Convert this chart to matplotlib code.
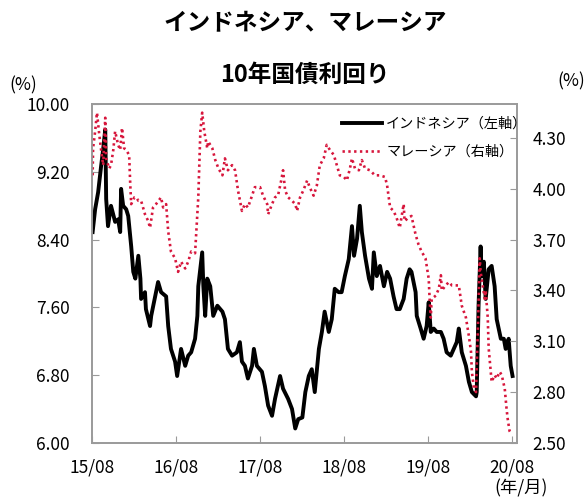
import pandas as pd
import matplotlib.pyplot as plt
import matplotlib.dates as mdates
from matplotlib.lines import Line2D

plt.rcParams['font.family'] = ['Noto Sans CJK JP', 'DejaVu Sans']

# インドネシア 10年国債利回り（左軸, %）
idn_dates = [
    '2015-08-03', '2015-08-14', '2015-08-27', '2015-09-09', '2015-09-18', '2015-09-27',
    '2015-10-01', '2015-10-09', '2015-10-22', '2015-11-09', '2015-11-22', '2015-12-01',
    '2015-12-05', '2015-12-14', '2015-12-27', '2016-01-05', '2016-01-18', '2016-01-27',
    '2016-02-05', '2016-02-18', '2016-02-27', '2016-03-01', '2016-03-18', '2016-03-22',
    '2016-04-09', '2016-04-14', '2016-05-01', '2016-05-14', '2016-05-27', '2016-06-18',
    '2016-06-27', '2016-07-09', '2016-07-27', '2016-08-05', '2016-08-22', '2016-09-09',
    '2016-09-22', '2016-10-05', '2016-10-22', '2016-11-01', '2016-11-05', '2016-11-22',
    '2016-11-27', '2016-12-05', '2016-12-14', '2016-12-27', '2017-01-09', '2017-01-27',
    '2017-02-18', '2017-03-01', '2017-03-14', '2017-04-01', '2017-04-22', '2017-05-05',
    '2017-05-14', '2017-05-27', '2017-06-09', '2017-06-27', '2017-07-05', '2017-07-18',
    '2017-08-09', '2017-08-22', '2017-09-05', '2017-09-22', '2017-10-05', '2017-10-27',
    '2017-11-09', '2017-12-01', '2017-12-18', '2018-01-01', '2018-01-14', '2018-02-01',
    '2018-02-14', '2018-03-01', '2018-03-14', '2018-03-27', '2018-04-14', '2018-04-27',
    '2018-05-09', '2018-05-27', '2018-06-09', '2018-06-22', '2018-07-09', '2018-07-22',
    '2018-08-05', '2018-08-22', '2018-09-05', '2018-09-14', '2018-09-27', '2018-10-09',
    '2018-10-18', '2018-11-01', '2018-11-18', '2018-12-01', '2018-12-09', '2018-12-22',
    '2019-01-05', '2019-01-22', '2019-02-05', '2019-02-18', '2019-03-05', '2019-03-18',
    '2019-04-01', '2019-04-18', '2019-05-01', '2019-05-14', '2019-05-22', '2019-06-09',
    '2019-06-14', '2019-07-01', '2019-07-14', '2019-07-27', '2019-08-05', '2019-08-14',
    '2019-08-27', '2019-09-09', '2019-09-27', '2019-10-09', '2019-10-22', '2019-11-09',
    '2019-11-22', '2019-12-05', '2019-12-14', '2019-12-27', '2020-01-14', '2020-01-27',
    '2020-02-09', '2020-02-27', '2020-03-01', '2020-03-09', '2020-03-18', '2020-03-22',
    '2020-04-01', '2020-04-09', '2020-04-22', '2020-05-05', '2020-05-18', '2020-05-27',
    '2020-06-14', '2020-06-27', '2020-07-05', '2020-07-18', '2020-07-27', '2020-08-04',
]
idn_yield = [
    8.49, 8.76, 8.96, 9.27, 9.47, 9.70,
    8.88, 8.56, 8.80, 8.61, 8.64, 8.49,
    9.00, 8.80, 8.76, 8.68, 8.32, 8.02,
    7.94, 8.21, 7.94, 7.70, 7.78, 7.58,
    7.38, 7.50, 7.73, 7.90, 7.78, 7.73,
    7.38, 7.11, 6.96, 6.79, 7.11, 6.91,
    7.03, 7.07, 7.23, 7.50, 7.85, 8.25,
    7.85, 7.50, 7.94, 7.85, 7.50, 7.62,
    7.55, 7.46, 7.11, 7.03, 7.07, 7.19,
    6.96, 6.91, 6.76, 6.91, 7.11, 6.91,
    6.84, 6.67, 6.44, 6.32, 6.52, 6.79,
    6.64, 6.52, 6.40, 6.17, 6.28, 6.30,
    6.60, 6.79, 6.87, 6.60, 7.11, 7.31,
    7.55, 7.31, 7.46, 7.82, 7.78, 7.78,
    7.97, 8.17, 8.56, 8.21, 8.41, 8.80,
    8.49, 8.21, 7.94, 7.82, 8.25, 7.97,
    8.09, 7.85, 8.02, 7.94, 7.73, 7.58,
    7.58, 7.70, 7.94, 8.05, 8.02, 7.78,
    7.50, 7.35, 7.23, 7.38, 7.66, 7.31,
    7.35, 7.31, 7.31, 7.23, 7.07, 7.03,
    7.11, 7.19, 7.35, 7.07, 6.91, 6.72,
    6.60, 6.55, 6.60, 7.62, 8.32, 7.97,
    8.14, 7.70, 8.05, 8.09, 7.85, 7.46,
    7.23, 7.23, 7.11, 7.23, 6.91, 6.79,
]

# マレーシア 10年国債利回り（右軸, %）
mys_dates = [
    '2015-08-03', '2015-08-05', '2015-08-14', '2015-08-22', '2015-09-01', '2015-09-09',
    '2015-09-18', '2015-09-27', '2015-10-01', '2015-10-14', '2015-10-22', '2015-11-01',
    '2015-11-09', '2015-11-22', '2015-12-01', '2015-12-09', '2015-12-18', '2015-12-27',
    '2016-01-09', '2016-01-14', '2016-01-18', '2016-02-01', '2016-02-09', '2016-02-18',
    '2016-03-01', '2016-03-18', '2016-04-01', '2016-04-09', '2016-04-22', '2016-05-05',
    '2016-05-27', '2016-06-05', '2016-06-18', '2016-06-27', '2016-07-05', '2016-07-09',
    '2016-07-27', '2016-08-09', '2016-08-22', '2016-09-09', '2016-09-22', '2016-10-05',
    '2016-10-22', '2016-11-05', '2016-11-14', '2016-11-22', '2016-12-01', '2016-12-14',
    '2016-12-18', '2017-01-05', '2017-01-18', '2017-02-01', '2017-02-18', '2017-03-01',
    '2017-03-14', '2017-04-01', '2017-04-14', '2017-04-27', '2017-05-14', '2017-05-27',
    '2017-06-09', '2017-06-27', '2017-07-09', '2017-08-01', '2017-08-14', '2017-09-01',
    '2017-09-05', '2017-09-22', '2017-10-05', '2017-10-18', '2017-11-01', '2017-11-09',
    '2017-11-18', '2017-12-01', '2017-12-18', '2018-01-01', '2018-01-09', '2018-01-22',
    '2018-02-05', '2018-02-22', '2018-03-05', '2018-03-22', '2018-04-05', '2018-04-18',
    '2018-05-05', '2018-05-18', '2018-06-01', '2018-06-18', '2018-07-01', '2018-07-14',
    '2018-08-01', '2018-08-14', '2018-08-27', '2018-09-05', '2018-09-18', '2018-10-05',
    '2018-10-18', '2018-11-01', '2018-11-22', '2018-12-14', '2019-01-05', '2019-01-27',
    '2019-02-05', '2019-02-14', '2019-02-18', '2019-03-05', '2019-03-18', '2019-04-01',
    '2019-04-18', '2019-04-22', '2019-05-09', '2019-05-22', '2019-06-09', '2019-06-22',
    '2019-07-05', '2019-07-22', '2019-08-05', '2019-08-09', '2019-08-14', '2019-08-18',
    '2019-09-05', '2019-09-18', '2019-09-27', '2019-10-01', '2019-10-18', '2019-11-01',
    '2019-11-14', '2019-12-01', '2019-12-14', '2019-12-27', '2020-01-14', '2020-01-27',
    '2020-02-05', '2020-02-09', '2020-02-18', '2020-02-27', '2020-03-01', '2020-03-05',
    '2020-03-14', '2020-03-18', '2020-03-27', '2020-04-05', '2020-04-09', '2020-04-18',
    '2020-04-22', '2020-05-01', '2020-05-05', '2020-05-18', '2020-05-27', '2020-06-09',
    '2020-06-18', '2020-07-01', '2020-07-09', '2020-07-14', '2020-07-22', '2020-07-31',
]
mys_yield = [
    4.08, 4.24, 4.34, 4.45, 4.32, 4.23,
    4.14, 4.42, 4.18, 4.12, 4.14, 4.23,
    4.34, 4.26, 4.23, 4.36, 4.24, 4.23,
    4.20, 4.02, 3.91, 3.95, 3.95, 3.93,
    3.93, 3.85, 3.81, 3.77, 3.89, 3.91,
    3.95, 3.89, 3.91, 3.75, 3.67, 3.63,
    3.59, 3.51, 3.57, 3.53, 3.57, 3.63,
    3.62, 3.95, 4.34, 4.45, 4.34, 4.24,
    4.28, 4.24, 4.17, 4.12, 4.08, 4.18,
    4.11, 4.14, 4.11, 3.99, 3.87, 3.91,
    3.89, 3.96, 4.01, 4.01, 3.96, 3.91,
    3.85, 3.91, 3.95, 3.96, 4.05, 4.11,
    3.99, 3.95, 3.93, 3.91, 3.87, 3.95,
    3.99, 4.05, 4.01, 3.96, 4.02, 4.14,
    4.18, 4.26, 4.23, 4.20, 4.14, 4.08,
    4.07, 4.05, 4.12, 4.18, 4.12, 4.11,
    4.17, 4.12, 4.11, 4.08, 4.08, 4.07,
    4.02, 3.93, 3.89, 3.87, 3.83, 3.77,
    3.91, 3.81, 3.83, 3.84, 3.73, 3.67,
    3.63, 3.59, 3.47, 3.35, 3.24, 3.35,
    3.37, 3.41, 3.49, 3.40, 3.43, 3.45,
    3.43, 3.43, 3.43, 3.31, 3.24, 3.13,
    3.04, 2.92, 2.82, 2.80, 2.96, 3.12,
    3.59, 3.51, 3.43, 3.35, 3.40, 3.24,
    3.06, 2.92, 2.86, 2.90, 2.88, 2.92,
    2.90, 2.82, 2.70, 2.64, 2.57, 2.55,
]

left_ticks = [6.00, 6.80, 7.60, 8.40, 9.20, 10.00]
right_ticks = [2.50, 2.80, 3.10, 3.40, 3.70, 4.00, 4.30]
x_ticks = ['2015-08-01', '2016-08-01', '2017-08-01', '2018-08-01', '2019-08-01', '2020-08-01']

idn_x = pd.to_datetime(idn_dates)
mys_x = pd.to_datetime(mys_dates)

red = '#d7163c'
grey = '#9a9a9a'
fs = 12.5
dots = (0, (0.9, 1.3))

fig = plt.figure(figsize=(5.87, 5.01), dpi=100)
ax = fig.add_axes([0.157, 0.116, 0.724, 0.676])
ax2 = ax.twinx()

ax.plot(idn_x, idn_yield, color='black', lw=2.8, solid_joinstyle='round')
ax2.plot(mys_x, mys_yield, color=red, lw=1.9, linestyle=dots)

ax.set_ylim(6.0, 10.0)
ax2.set_ylim(2.5, 4.5)
ax.set_yticks(left_ticks)
ax2.set_yticks(right_ticks)
ax.set_yticklabels([f'{v:.2f}' for v in left_ticks], fontsize=fs)
ax2.set_yticklabels([f'{v:.2f}' for v in right_ticks], fontsize=fs)

ax.set_xlim(pd.Timestamp('2015-08-01'), pd.Timestamp('2020-08-24'))
ax.set_xticks(pd.to_datetime(x_ticks))
ax.xaxis.set_major_formatter(mdates.DateFormatter('%y/%m'))
ax.tick_params(axis='x', labelsize=fs, direction='in', length=5, color=grey, pad=11)
ax.tick_params(axis='y', direction='in', length=5, color=grey, pad=16)
ax2.tick_params(axis='y', direction='in', length=5, color=grey, pad=11)

for a in (ax, ax2):
    for s in a.spines.values():
        s.set_color(grey)
        s.set_linewidth(1.2)

fig.text(0.52, 0.955, 'インドネシア、マレーシア', ha='center', va='center',
         fontsize=17, fontweight='bold')
fig.text(0.52, 0.85, '10年国債利回り', ha='center', va='center',
         fontsize=17, fontweight='bold')
fig.text(0.040, 0.830, '(%)', ha='center', va='center', fontsize=fs)
fig.text(0.973, 0.838, '(%)', ha='center', va='center', fontsize=fs)
fig.text(0.888, 0.026, '(年/月)', ha='center', va='center', fontsize=fs)

handles = [Line2D([], [], color='black', lw=2.8),
           Line2D([], [], color=red, lw=1.9, linestyle=dots)]
labels = ['インドネシア（左軸）', 'マレーシア（右軸）']
ax2.legend(handles, labels, loc='upper right', bbox_to_anchor=(1.024, 0.963),
           frameon=False, fontsize=10.2, handlelength=2.8, handletextpad=0.3,
           labelspacing=1.0, borderaxespad=0.0, borderpad=0.0)

fig.savefig('out.png', dpi=100)
